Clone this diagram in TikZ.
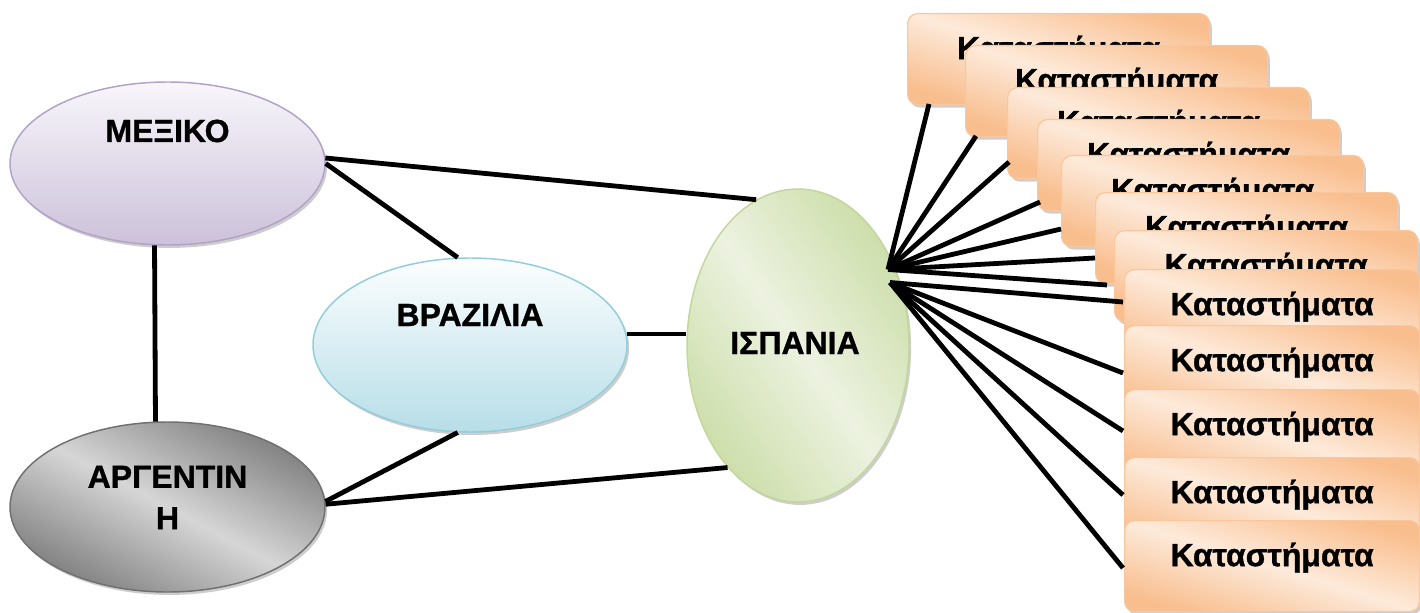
\documentclass[tikz,border=0pt]{standalone}
\usepackage{fontspec}
\setmainfont{Liberation Sans Bold}[FakeBold=1]
\usetikzlibrary{shapes.geometric,calc,shadows}

% fills and outlines
\definecolor{mexTop}{RGB}{248,246,251}
\definecolor{mexBot}{RGB}{204,193,218}
\definecolor{mexLine}{RGB}{178,162,199}
\definecolor{braTop}{RGB}{252,254,255}
\definecolor{braBot}{RGB}{183,222,232}
\definecolor{braLine}{RGB}{146,205,220}
\definecolor{ispDark}{RGB}{205,222,170}
\definecolor{ispLight}{RGB}{236,242,224}
\definecolor{ispLine}{RGB}{195,214,155}
\definecolor{argDark}{RGB}{128,128,128}
\definecolor{argLight}{RGB}{214,214,214}
\definecolor{argLine}{RGB}{112,112,112}
\definecolor{shopDark}{RGB}{249,190,142}
\definecolor{shopLight}{RGB}{253,234,218}
\definecolor{shopLine}{RGB}{250,198,156}

\begin{document}
\begin{tikzpicture}[x=0.75pt,y=-0.75pt,
  conn/.style={line width=3.6pt,black},
  txt/.style={font=\fontsize{24pt}{31.1pt}\selectfont},
  lbl/.style={txt,inner sep=0pt,anchor=base},
  soft/.style={drop shadow={shadow xshift=1.6pt,shadow yshift=-2.2pt,opacity=0.28,fill=black!70}},
  oval/.style={ellipse,inner sep=0pt,line width=1.1pt,soft},
  stripe/.style n args={3}{top color=#1,bottom color=#1,middle color=#2,shading angle=#3},
  store/.style={rectangle,rounded corners=7.5pt,draw=shopLine,line width=0.9pt,
    stripe={shopDark}{shopLight}{-17},soft,anchor=north west,minimum height=68.25pt,
    inner sep=0pt,txt,text height=12pt,text depth=12pt}
]
\useasboundingbox (0,0) rectangle (1420,613);

% country ovals
\node[oval,draw=mexLine,top color=mexTop,bottom color=mexBot,
  minimum width=236.25pt,minimum height=122.25pt] (mex) at (167.5,163.5) {};
\node[oval,draw=argLine,stripe={argDark}{argLight}{-28},
  minimum width=236.25pt,minimum height=127.5pt] (arg) at (167.5,507) {};
\node[oval,draw=braLine,top color=braTop,bottom color=braBot,
  minimum width=235.5pt,minimum height=130.5pt] (bra) at (470,345) {};
\node[oval,draw=ispLine,stripe={ispDark}{ispLight}{-55},
  minimum width=166.5pt,minimum height=234.75pt] (isp) at (798,345.5) {};

\node[lbl] (mexT) at ($(mex.center)+(0,-21.5)$) {ΜΕΞΙΚΟ};
\node[lbl] (braT) at ($(bra.center)+(0,-19)$) {ΒΡΑΖΙΛΙΑ};
\node[lbl] (ispT) at ($(isp.center)+(-3,8.5)$) {ΙΣΠΑΝΙΑ};
\node[lbl,anchor=center,align=center] (argT) at ($(arg.center)+(0,-9.5)$) {ΑΡΓΕΝΤΙΝ\\Η};

% stacked store cards, back to front
\foreach \i/\x/\y/\w in {1/907/13/302, 2/965/45/302, 3/1007/87/302,
    4/1037/119/302, 5/1061/155/302, 6/1095/192/302, 7/1114/230/303,
    8/1124/269/295, 9/1124/325/295, 10/1124/389/295, 11/1124/457/295,
    12/1124/520/295}
  \node[store,minimum width=\w*0.75pt] (b\i) at (\x,\y) {Καταστήματα};

% links between the countries
\draw[conn] (mex.2) -- (isp.106);
\draw[conn] (mex.0) -- (bra.98);
\draw[conn] (mex.261) -- (arg.98);
\draw[conn] (bra.4) -- (bra.4 -| isp.west);
\draw[conn] (arg.2) -- (bra.262);
\draw[conn] (arg.1) -- (isp.240);

% fan from Spain to the stores
\coordinate (fanA) at ($(isp.center)+(90,-76)$);
\coordinate (fanB) at ($(isp.center)+(92,-63)$);
\foreach \i/\dx/\dy in {1/22/91, 2/11/91, 3/2/75, 4/3/83, 5/0/74, 6/0/66, 7/-7/55}
  \draw[conn] (fanA) -- ($(b\i.north west)+(\dx,\dy)$);
\foreach \i/\dx/\dy in {8/-1/33, 9/-1/48, 10/-1/42, 11/-1/38, 12/-1/48}
  \draw[conn] (fanB) -- ($(b\i.north west)+(\dx,\dy)$);
\end{tikzpicture}
\end{document}
